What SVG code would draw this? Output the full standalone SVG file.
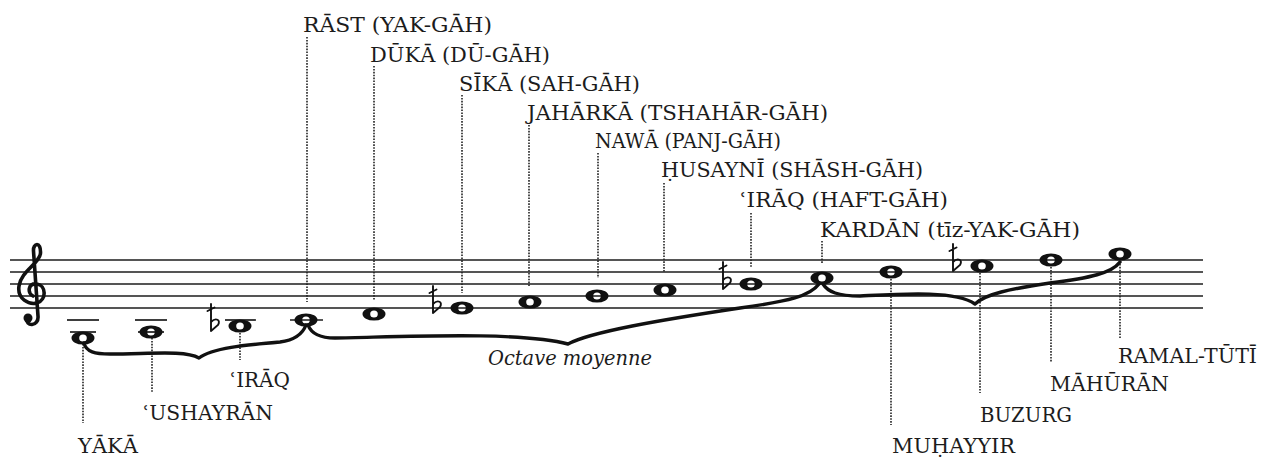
<svg xmlns="http://www.w3.org/2000/svg" xmlns:xlink="http://www.w3.org/1999/xlink" width="1272" height="459" viewBox="0 0 1272 459">
<style>
.lbl{font-family:"DejaVu Serif","Liberation Serif",serif;font-size:20px;fill:#1c1c1c}
.it{font-style:italic}
.staff{stroke:#1c1c1c;stroke-width:1.7}
.ledger{stroke:#1c1c1c;stroke-width:1.7}
.lead{stroke:#222;stroke-width:1.6;stroke-dasharray:1.6 1.3;fill:none}
.brace{fill:none;stroke:#111;stroke-width:3.4;stroke-linecap:round;stroke-linejoin:round}
.flat{fill:none;stroke:#111;stroke-width:1.9;stroke-linecap:round}
.head{fill:#111;fill-rule:evenodd}
</style>
<defs>
<path id="wn" class="head" d="M-11.5 0a11.5 6.6 0 1 0 23 0a11.5 6.6 0 1 0 -23 0ZM-3.8 0a3.8 3.6 0 1 0 7.6 0a3.8 3.6 0 1 0 -7.6 0Z"/>
<path id="fl" class="flat" d="M0 -22V5M0 -4C5 -9 10 -6 7 -1L0 5M-3.5 -15L3.5 -18.5"/>
</defs>
<rect width="1272" height="459" fill="#fff"/>

<g id="staff">
<line class="staff" x1="10" y1="260" x2="1203" y2="260"/>
<line class="staff" x1="10" y1="272" x2="1203" y2="272"/>
<line class="staff" x1="10" y1="284" x2="1203" y2="284"/>
<line class="staff" x1="10" y1="296" x2="1203" y2="296"/>
<line class="staff" x1="10" y1="308" x2="1203" y2="308"/>
<path d="M27 318C25 327 39 327 38 316L33.5 251C33 243 41 241 40.5 253C40 263 21 271 19 286C17 299 29 305 37 303C47 300 46 285 37 284C28 283 27 293 33 296" fill="none" stroke="#111" stroke-width="3.6" stroke-linecap="round"/>
<circle cx="28" cy="318" r="4.5" fill="#111"/>
</g>

<g id="connectors">
<line class="lead" x1="307" y1="37" x2="307" y2="302"/>
<line class="lead" x1="374" y1="66" x2="374" y2="300"/>
<line class="lead" x1="462" y1="95" x2="462" y2="293"/>
<line class="lead" x1="529" y1="125" x2="529" y2="287"/>
<line class="lead" x1="598" y1="153" x2="598" y2="278"/>
<line class="lead" x1="664" y1="183" x2="664" y2="272"/>
<line class="lead" x1="751" y1="213" x2="751" y2="268"/>
<line class="lead" x1="822" y1="241" x2="822" y2="263"/>
<line class="lead" x1="83" y1="344" x2="83" y2="423"/>
<line class="lead" x1="152" y1="338" x2="152" y2="392"/>
<line class="lead" x1="240" y1="333" x2="240" y2="360"/>
<line class="lead" x1="891" y1="279" x2="891" y2="425"/>
<line class="lead" x1="980" y1="273" x2="980" y2="393"/>
<line class="lead" x1="1051" y1="267" x2="1051" y2="362"/>
<line class="lead" x1="1120" y1="261" x2="1120" y2="338"/>
</g>

<g id="braces">
<path class="brace" d="M84 343C86 352 95 354 110 354C150 354 185 350 199 358C212 348 245 345 280 342C295 340 303 333 306 325"/>
<path class="brace" d="M308 325C311 333 318 338 335 338C400 337 520 331 568 344C590 332 660 320 740 308C790 301 810 296 819 284"/>
<path class="brace" d="M823 284C828 292 838 296 860 296C900 294 955 290 975 304C985 294 1010 289 1050 283C1090 278 1112 273 1120 262"/>
</g>

<g id="n-yaka">
<line class="ledger" x1="67" y1="320" x2="99" y2="320"/>
<line class="ledger" x1="70" y1="332" x2="96" y2="332"/>
<use xlink:href="#wn" x="83" y="338"/>
<text class="lbl" x="78" y="453" textLength="60" lengthAdjust="spacingAndGlyphs">YĀKĀ</text>
</g>
<g id="n-ushayran">
<line class="ledger" x1="135" y1="320" x2="167" y2="320"/>
<line class="ledger" x1="138" y1="332" x2="164" y2="332"/>
<use xlink:href="#wn" x="151" y="332"/>
<text class="lbl" x="143" y="420" textLength="130" lengthAdjust="spacingAndGlyphs">ʿUSHAYRĀN</text>
</g>
<g id="n-iraq-low">
<line class="ledger" x1="225" y1="320" x2="256" y2="320"/>
<use xlink:href="#fl" x="211" y="326"/>
<use xlink:href="#wn" x="240" y="326"/>
<text class="lbl" x="230" y="387" textLength="60" lengthAdjust="spacingAndGlyphs">ʿIRĀQ</text>
</g>
<g id="n-rast">
<line class="ledger" x1="290" y1="320" x2="323" y2="320"/>
<use xlink:href="#wn" x="306" y="320"/>
<text class="lbl" x="303" y="32" textLength="189" lengthAdjust="spacingAndGlyphs">RĀST (YAK-GĀH)</text>
</g>
<g id="n-duka">
<use xlink:href="#wn" x="374" y="314"/>
<text class="lbl" x="370" y="62" textLength="180" lengthAdjust="spacingAndGlyphs">DŪKĀ (DŪ-GĀH)</text>
</g>
<g id="n-sika">
<use xlink:href="#fl" x="433" y="308"/>
<use xlink:href="#wn" x="462" y="308"/>
<text class="lbl" x="459" y="91" textLength="181" lengthAdjust="spacingAndGlyphs">SĪKĀ (SAH-GĀH)</text>
</g>
<g id="n-jaharka">
<use xlink:href="#wn" x="530" y="302"/>
<text class="lbl" x="527" y="120" textLength="301" lengthAdjust="spacingAndGlyphs">JAHĀRKĀ (TSHAHĀR-GĀH)</text>
</g>
<g id="n-nawa">
<use xlink:href="#wn" x="597" y="296"/>
<text class="lbl" x="595" y="148" textLength="186" lengthAdjust="spacingAndGlyphs">NAWĀ (PANJ-GĀH)</text>
</g>
<g id="n-husayni">
<use xlink:href="#wn" x="665" y="290"/>
<text class="lbl" x="661" y="177" textLength="262" lengthAdjust="spacingAndGlyphs">ḤUSAYNĪ (SHĀSH-GĀH)</text>
</g>
<g id="n-iraq-haft">
<use xlink:href="#fl" x="723" y="284"/>
<use xlink:href="#wn" x="751" y="284"/>
<text class="lbl" x="740" y="207" textLength="208" lengthAdjust="spacingAndGlyphs">ʿIRĀQ (HAFT-GĀH)</text>
</g>
<g id="n-kardan">
<use xlink:href="#wn" x="822" y="278"/>
<text class="lbl" x="820" y="237" textLength="260" lengthAdjust="spacingAndGlyphs">KARDĀN (tīz-YAK-GĀH)</text>
</g>
<g id="n-muhayyir">
<use xlink:href="#wn" x="891" y="272"/>
<text class="lbl" x="892" y="453" textLength="123" lengthAdjust="spacingAndGlyphs">MUḤAYYIR</text>
</g>
<g id="n-buzurg">
<use xlink:href="#fl" x="953" y="266"/>
<use xlink:href="#wn" x="982" y="266"/>
<text class="lbl" x="980" y="422" textLength="92" lengthAdjust="spacingAndGlyphs">BUZURG</text>
</g>
<g id="n-mahuran">
<use xlink:href="#wn" x="1051" y="260"/>
<text class="lbl" x="1050" y="391" textLength="119" lengthAdjust="spacingAndGlyphs">MĀHŪRĀN</text>
</g>
<g id="n-ramal">
<use xlink:href="#wn" x="1120" y="254"/>
<text class="lbl" x="1118" y="363" textLength="139" lengthAdjust="spacingAndGlyphs">RAMAL-TŪTĪ</text>
</g>
<g id="octave">
<text class="lbl it" x="488" y="365" textLength="164" lengthAdjust="spacingAndGlyphs">Octave moyenne</text>
</g>
</svg>
